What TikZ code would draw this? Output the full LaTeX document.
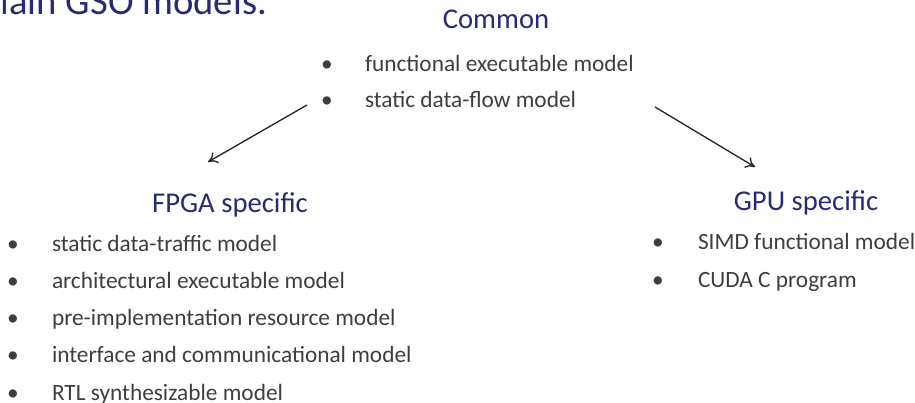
\documentclass[tikz,border=0pt]{standalone}
\usepackage{fontspec}
\setmainfont{Carlito}
\usepackage{tikz}
\usetikzlibrary{arrows.meta,positioning}
\definecolor{slidenavy}{RGB}{42,42,114}
\definecolor{slidegray}{RGB}{62,62,62}

\begin{document}
\begin{tikzpicture}[x=0.75pt,y=-0.75pt,every node/.style={inner sep=0pt,outer sep=0pt},
  head/.style={anchor=base,text=slidenavy,font=\fontsize{21.5}{24}\selectfont},
  item/.style={anchor=base west,text=slidegray,font=\fontsize{17.5}{20}\selectfont},
  dot/.style={anchor=base,text=slidegray,font=\fontsize{17.5}{20}\selectfont},
  arr/.style={-{To[length=7pt,width=9pt]},line width=1pt,draw=black!85}]
\useasboundingbox (0,0) rectangle (915,403);
\node[anchor=base east,text=slidenavy,font=\fontsize{29}{32}\selectfont] (title) at (267,15) {Main GSO models.};
% common models
\node[head] (common) at (496,29) {Common};
\node[dot] (cd1) at (327,72) {\textbullet}; \node[item] (c1) at (365,72) {functional executable model};
\node[dot] (cd2) at (327,108) {\textbullet}; \node[item] (c2) at (365,108) {static data-flow model};
% FPGA
\node[head] (fpga) at (230,212) {FPGA specific};
\node[dot] (fd1) at (13,251) {\textbullet}; \node[item] (f1) at (52,251) {static data-traffic model};
\node[dot] (fd2) at (13,288) {\textbullet}; \node[item] (f2) at (52,288) {architectural executable model};
\node[dot] (fd3) at (13,325) {\textbullet}; \node[item] (f3) at (52,325) {pre-implementation resource model};
\node[dot] (fd4) at (13,362) {\textbullet}; \node[item] (f4) at (52,362) {interface and communicational model};
\node[dot] (fd5) at (13,400) {\textbullet}; \node[item] (f5) at (52,400) {RTL synthesizable model};
% GPU
\node[head] (gpu) at (806,210) {GPU specific};
\node[dot] (gd1) at (658,249) {\textbullet}; \node[item] (g1) at (698,249) {SIMD functional model};
\node[dot] (gd2) at (658,287) {\textbullet}; \node[item] (g2) at (698,287) {CUDA C program};
\coordinate (la) at (307,105); \coordinate (lb) at (208,162);
\coordinate (ra) at (655,107); \coordinate (rb) at (755,167);
\draw[arr] (la)--(lb); \draw[arr] (ra)--(rb);
\end{tikzpicture}
\end{document}
